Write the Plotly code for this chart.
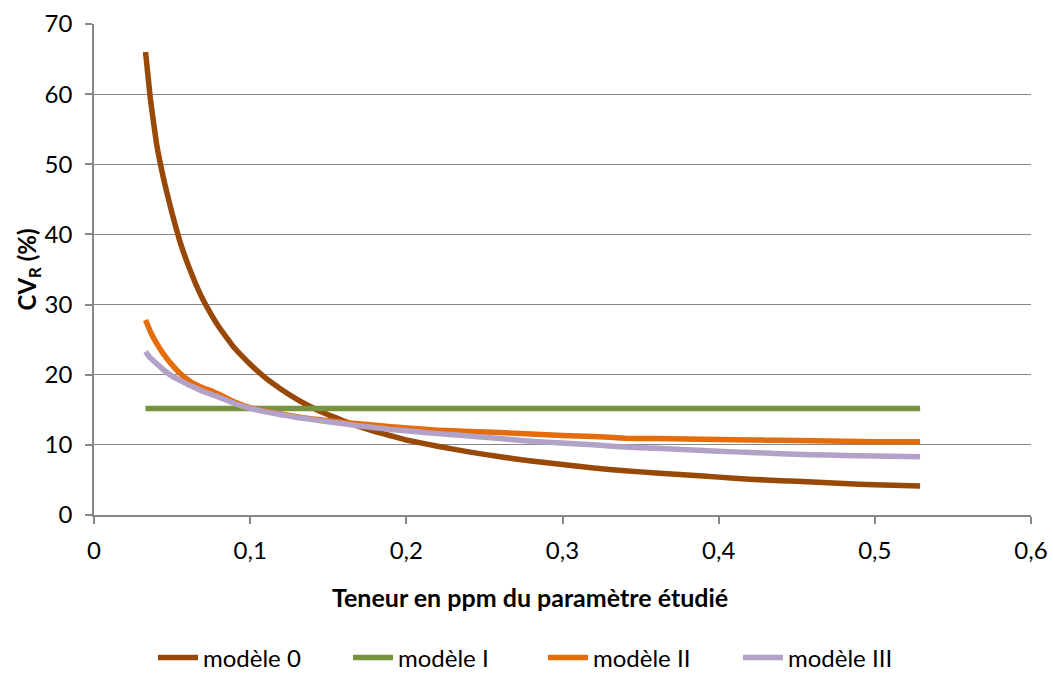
import plotly.graph_objects as go

teneur = [0.033, 0.036, 0.04, 0.045, 0.05, 0.055, 0.06, 0.065, 0.07, 0.075, 0.08, 0.09,
          0.10, 0.11, 0.12, 0.13, 0.14, 0.15, 0.16, 0.17, 0.18, 0.19, 0.20, 0.22, 0.24,
          0.26, 0.28, 0.30, 0.32, 0.34, 0.36, 0.38, 0.40, 0.42, 0.44, 0.46, 0.48, 0.50, 0.529]

modele_0 = [66.0, 59.5, 53.0, 47.5, 43.0, 39.0, 35.8, 33.0, 30.6, 28.6, 26.8, 23.8,
            21.5, 19.5, 17.9, 16.5, 15.3, 14.3, 13.4, 12.6, 11.9, 11.3, 10.7, 9.8, 9.0,
            8.3, 7.7, 7.2, 6.7, 6.3, 6.0, 5.7, 5.4, 5.1, 4.9, 4.7, 4.5, 4.3, 4.15]

modele_I = [15.2] * len(teneur)

modele_II = [27.8, 26.2, 24.5, 22.8, 21.4, 20.2, 19.3, 18.6, 18.1, 17.7, 17.2, 16.1,
             15.3, 14.8, 14.4, 14.0, 13.7, 13.45, 13.2, 13.0, 12.8, 12.6, 12.4, 12.1, 11.9,
             11.75, 11.55, 11.35, 11.2, 10.95, 10.9, 10.85, 10.75, 10.7, 10.65, 10.6, 10.5, 10.45, 10.45]

modele_III = [23.3, 22.4, 21.6, 20.6, 19.8, 19.2, 18.6, 18.1, 17.6, 17.2, 16.8, 15.9,
              15.2, 14.7, 14.3, 13.9, 13.6, 13.3, 13.0, 12.7, 12.45, 12.2, 12.0, 11.6, 11.25,
              10.9, 10.5, 10.25, 10.0, 9.7, 9.5, 9.3, 9.1, 8.9, 8.75, 8.6, 8.5, 8.4, 8.3]

series = [
    ("modèle 0", modele_0, "#984807"),
    ("modèle I", modele_I, "#77933C"),
    ("modèle II", modele_II, "#E46C0A"),
    ("modèle III", modele_III, "#B3A2C7"),
]

x_ticks = [0, 0.1, 0.2, 0.3, 0.4, 0.5, 0.6]
x_labels = ["0", "0,1", "0,2", "0,3", "0,4", "0,5", "0,6"]
y_ticks = [0, 10, 20, 30, 40, 50, 60, 70]

FONT = "Lato, 'Open Sans', sans-serif"
GRID = "#878787"

fig = go.Figure()
for name, vals, col in series:
    fig.add_trace(go.Scatter(x=teneur, y=vals, name=name, mode="lines",
                             line=dict(color=col, width=5.5, shape="spline", smoothing=0.3)))

W, H = 1053, 673
L, R, T, B = 94, 22, 24, 158

fig.update_layout(
    width=W, height=H,
    margin=dict(l=L, r=R, t=T, b=B, autoexpand=False),
    paper_bgcolor="white", plot_bgcolor="white",
    separators=", ",
    font=dict(family=FONT, size=24, color="#000000"),
    showlegend=True,
    legend=dict(orientation="h", x=(543 - L) / (W - L - R), xanchor="center",
                yref="container", y=(H - 658) / H, yanchor="middle",
                font=dict(size=24), itemwidth=40, traceorder="normal",
                entrywidth=140, entrywidthmode="pixels"),
    xaxis=dict(range=[0, 0.6], tickvals=x_ticks, ticktext=x_labels,
               showgrid=False, zeroline=False, showline=True, linecolor=GRID, linewidth=1.5,
               ticks="outside", ticklen=7, tickcolor=GRID, tickwidth=1.5,
               tickfont=dict(size=24), ticklabelstandoff=6, fixedrange=True),
    yaxis=dict(range=[0, 70], tickvals=y_ticks, showgrid=True, gridcolor=GRID, gridwidth=1.2,
               zeroline=False, showline=True, linecolor=GRID, linewidth=1.5,
               ticks="outside", ticklen=7, tickcolor=GRID, tickwidth=1.5,
               tickfont=dict(size=24), ticklabelstandoff=8, fixedrange=True),
)

fig.add_annotation(text="<b>Teneur en ppm du paramètre étudié</b>", xref="paper", yref="paper",
                   x=(530 - L) / (W - L - R), y=(H - B - 597) / (H - T - B),
                   showarrow=False, font=dict(size=25), xanchor="center", yanchor="middle")
fig.add_annotation(text="<b>CV<sub>R</sub> (%)</b>", xref="paper", yref="paper",
                   x=(28 - L) / (W - L - R), y=0.5, textangle=-90,
                   showarrow=False, font=dict(size=24), xanchor="center", yanchor="middle")

fig.write_html("out.html")
